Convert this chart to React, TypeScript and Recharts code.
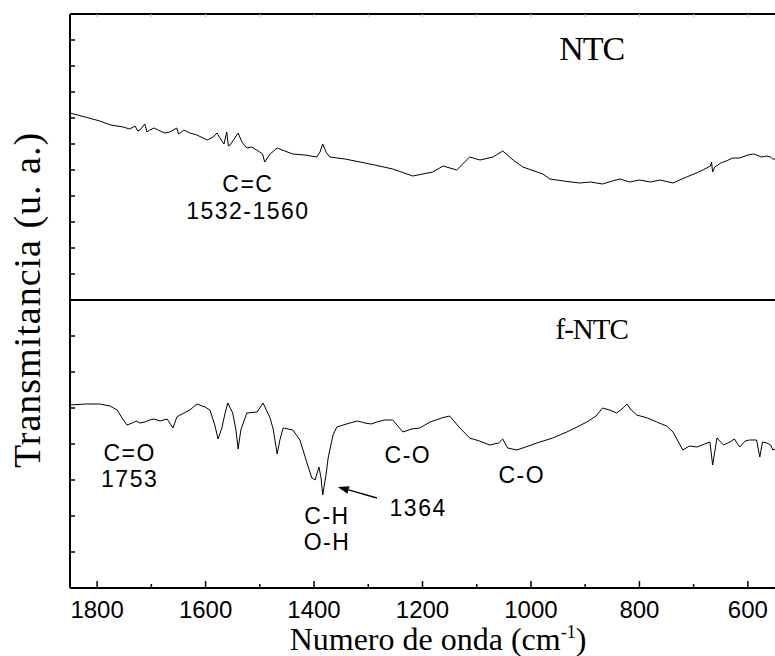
// @ts-nocheck
import React from 'react';
import { LineChart, Line, XAxis, YAxis, ReferenceDot, ReferenceLine } from 'recharts';

// NTC spectrum (top panel), arbitrary units
const ntcWavenumber = [1850, 1822, 1795, 1775, 1752, 1740, 1730, 1725, 1721, 1712, 1708, 1703, 1695, 1684, 1675, 1666, 1653, 1650, 1647, 1640, 1629, 1616, 1597, 1586, 1579, 1570, 1566, 1561, 1558, 1555, 1546, 1540, 1533, 1524, 1515, 1509, 1500, 1495, 1491, 1481, 1468, 1454, 1439, 1417, 1395, 1389, 1384, 1378, 1371, 1343, 1315, 1288, 1255, 1218, 1181, 1162, 1137, 1113, 1094, 1070, 1052, 1033, 1015, 978, 965, 940, 910, 890, 868, 850, 836, 818, 800, 780, 762, 738, 713, 695, 683, 669, 667, 665, 661, 650, 640, 628, 615, 600, 590, 584, 575, 565, 558, 554, 550];
const ntcSignal = [187, 183, 179, 175, 173, 171, 174, 169, 170, 176, 168, 170, 172, 169, 167, 168, 172, 166, 167, 170, 167, 165, 160, 163, 167, 159, 156, 168, 154, 155, 162, 167, 158, 152, 153, 151, 148, 146, 138, 146, 152, 149, 146, 145, 143, 148, 156, 148, 143, 141, 138, 135, 131, 124, 128, 134, 130, 143, 140, 143, 149, 140, 133, 126, 121, 119, 117, 118, 116, 119, 121, 118, 120, 118, 120, 117, 123, 127, 130, 134, 138, 128, 133, 137, 139, 142, 142, 145, 146, 145, 143, 144, 143, 141, 141];

// f-NTC spectrum (bottom panel)
const fntcWavenumber = [1850, 1822, 1795, 1776, 1763, 1754, 1745, 1735, 1728, 1721, 1712, 1703, 1695, 1684, 1671, 1660, 1653, 1647, 1629, 1616, 1601, 1592, 1583, 1577, 1570, 1564, 1559, 1550, 1544, 1540, 1535, 1524, 1505, 1494, 1481, 1475, 1468, 1463, 1457, 1439, 1426, 1413, 1404, 1398, 1391, 1387, 1384, 1378, 1374, 1365, 1358, 1334, 1320, 1306, 1295, 1284, 1270, 1255, 1236, 1220, 1205, 1186, 1165, 1150, 1131, 1113, 1095, 1076, 1060, 1052, 1043, 1026, 1010, 989, 960, 934, 915, 897, 880, 868, 855, 842, 830, 823, 815, 805, 785, 768, 750, 738, 720, 708, 694, 680, 670, 665, 657, 645, 633, 625, 615, 605, 597, 584, 578, 573, 565, 558, 554, 550];
const fntcSignal = [183, 184, 184, 182, 178, 170, 163, 165, 167, 165, 166, 168, 169, 167, 169, 160, 171, 173, 178, 184, 181, 178, 163, 149, 160, 175, 185, 175, 158, 139, 158, 175, 176, 185, 170, 158, 134, 148, 160, 158, 148, 125, 110, 108, 121, 110, 93, 113, 130, 153, 161, 165, 167, 165, 164, 166, 168, 168, 156, 159, 160, 166, 170, 172, 160, 150, 147, 143, 145, 149, 140, 138, 141, 145, 150, 156, 161, 166, 172, 180, 178, 175, 180, 184, 178, 173, 170, 166, 162, 156, 138, 142, 141, 144, 146, 123, 150, 143, 146, 149, 141, 147, 148, 148, 131, 146, 145, 143, 138, 139];

const majorTicks = [1800, 1600, 1400, 1200, 1000, 800, 600];
const allTicks = [1800, 1700, 1600, 1500, 1400, 1300, 1200, 1100, 1000, 900, 800, 700, 600];
const ntcYTicks = [26, 52, 78, 104, 130, 156, 182, 208, 234, 260];
const fntcYTicks = [36, 72, 108, 144, 180, 216, 252];

const ntcData = ntcWavenumber.map((wn, i) => ({ wn, t: ntcSignal[i] }));
const fntcData = fntcWavenumber.map((wn, i) => ({ wn, t: fntcSignal[i] }));

const SANS = "'Liberation Sans', Arial, sans-serif";
const SERIF = "'Liberation Serif', 'Times New Roman', serif";

const LeftTick = ({ x, y }) => <line x1={x} x2={x + 5} y1={y} y2={y} stroke="#000" strokeWidth={1.5} />;

const TopTick = ({ x, y }) => <line x1={x} x2={x} y1={y} y2={y + 3} stroke="#bbb" strokeWidth={1} />;

const BottomTick = ({ x, y, payload }) => {
  const major = majorTicks.includes(payload.value);
  return (
    <g>
      <line x1={x} x2={x} y1={y} y2={y - (major ? 7 : 4)} stroke="#000" strokeWidth={1.5} />
      {major && (
        <text x={x} y={y + 30} textAnchor="middle" fontFamily={SANS} fontSize={24} fill="#000">
          {payload.value}
        </text>
      )}
    </g>
  );
};

// annotation text anchored at a data point
const note = (text, size = 23, family = SANS, spacing = 1.5) => (p) => (
  <text
    x={p.cx}
    y={p.cy}
    textAnchor="middle"
    dominantBaseline="central"
    fontFamily={family}
    fontSize={size}
    letterSpacing={spacing}
    fill="#000"
  >
    {text}
  </text>
);

const arrow = (p) => {
  const { x1, y1, x2, y2 } = p;
  const ang = Math.atan2(y2 - y1, x2 - x1);
  const L = 11, W = 4;
  const bx = x2 - L * Math.cos(ang), by = y2 - L * Math.sin(ang);
  const px = -Math.sin(ang) * W, py = Math.cos(ang) * W;
  return (
    <g>
      <line x1={x1} y1={y1} x2={bx} y2={by} stroke="#000" strokeWidth={1.3} />
      <polygon points={`${x2},${y2} ${bx + px},${by + py} ${bx - px},${by - py}`} fill="#000" />
    </g>
  );
};

export default function App() {
  return (
    <div style={{ position: 'absolute', left: 0, top: 0, width: 775, height: 656, background: '#fff' }}>
      <div style={{ position: 'absolute', left: 0, top: 0 }}>
        <LineChart width={775} height={300} data={ntcData} margin={{ top: 0, right: 0, bottom: 0, left: 10 }}>
          <XAxis
            orientation="top"
            type="number"
            dataKey="wn"
            domain={[550, 1850]}
            reversed
            height={14}
            ticks={allTicks}
            interval={0}
            tick={TopTick}
            tickLine={false}
            tickSize={0}
            tickMargin={0}
            axisLine={{ stroke: '#000', strokeWidth: 2 }}
          />
          <YAxis
            type="number"
            domain={[0, 286]}
            ticks={ntcYTicks}
            interval={0}
            width={60}
            tick={LeftTick}
            tickLine={false}
            tickSize={0}
            tickMargin={0}
            axisLine={{ stroke: '#000', strokeWidth: 2 }}
          />
          <Line type="linear" dataKey="t" stroke="#000" strokeWidth={1} dot={false} isAnimationActive={false} />
          <ReferenceDot x={888} y={252} r={0} shape={note('NTC', 34, SERIF, -1)} />
          <ReferenceDot x={1522} y={116} r={0} shape={note('C=C')} />
          <ReferenceDot x={1522} y={89} r={0} shape={note('1532-1560')} />
        </LineChart>
      </div>
      <div style={{ position: 'absolute', left: 0, top: 296 }}>
        <LineChart width={775} height={360} data={fntcData} margin={{ top: 4, right: 0, bottom: 0, left: 10 }}>
          <XAxis
            type="number"
            dataKey="wn"
            domain={[550, 1850]}
            reversed
            height={68}
            ticks={allTicks}
            interval={0}
            tick={BottomTick}
            tickLine={false}
            tickSize={0}
            tickMargin={0}
            axisLine={{ stroke: '#000', strokeWidth: 2 }}
          />
          <YAxis
            type="number"
            domain={[0, 288]}
            ticks={fntcYTicks}
            interval={0}
            width={60}
            tick={LeftTick}
            tickLine={false}
            tickSize={0}
            tickMargin={0}
            axisLine={{ stroke: '#000', strokeWidth: 2 }}
          />
          <ReferenceLine y={288} stroke="#000" strokeWidth={2} />
          <Line type="linear" dataKey="t" stroke="#000" strokeWidth={1} dot={false} isAnimationActive={false} />
          <ReferenceDot x={888} y={259} r={0} shape={note('f-NTC', 29, SERIF, -1)} />
          <ReferenceDot x={1740} y={135} r={0} shape={note('C=O')} />
          <ReferenceDot x={1740} y={109} r={0} shape={note('1753')} />
          <ReferenceDot x={1227} y={133} r={0} shape={note('C-O')} />
          <ReferenceDot x={1017} y={113} r={0} shape={note('C-O')} />
          <ReferenceDot x={1208} y={80} r={0} shape={note('1364')} />
          <ReferenceDot x={1376} y={72} r={0} shape={note('C-H')} />
          <ReferenceDot x={1376} y={46} r={0} shape={note('O-H')} />
          <ReferenceLine segment={[{ x: 1284, y: 90 }, { x: 1356, y: 101 }]} shape={arrow} />
        </LineChart>
      </div>
      <svg width={775} height={656} style={{ position: 'absolute', left: 0, top: 0, pointerEvents: 'none' }}>
        <text
          x={27}
          y={300}
          transform="rotate(-90, 27, 300)"
          textAnchor="middle"
          dominantBaseline="central"
          fontFamily={SERIF}
          fontSize={38}
          letterSpacing={1}
          fill="#000"
        >
          Transmitancia (u. a.)
        </text>
        <text x={438} y={650} textAnchor="middle" fontFamily={SERIF} fontSize={32} fill="#000">
          Numero de onda (cm
          <tspan dy={-12} fontSize={18}>-1</tspan>
          <tspan dy={12}>)</tspan>
        </text>
      </svg>
    </div>
  );
}
